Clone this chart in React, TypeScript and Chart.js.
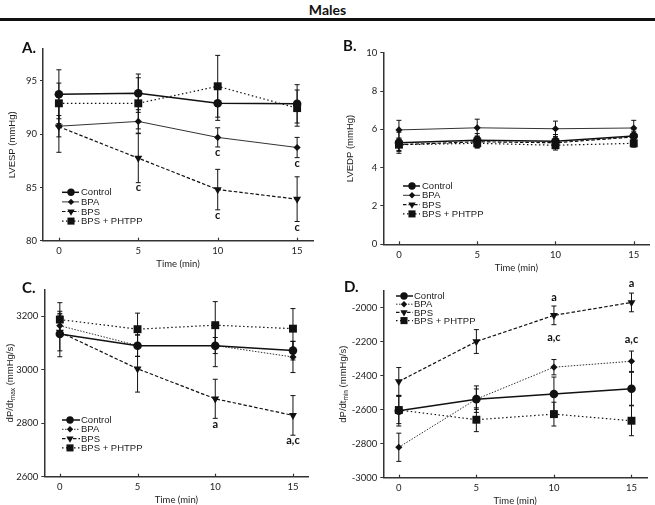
import React, { useEffect, useRef } from "react";
import { Chart, registerables } from "chart.js";

Chart.register(...registerables);

// ---------- data ----------
const timeMin = [0, 5, 10, 15];
const xTickValues = [0, 5, 10, 15];
const groupNames = ["Control", "BPA", "BPS", "BPS + PHTPP"];

// A. LVESP (mmHg)
const lvespTicks = [80, 85, 90, 95];
const lvespControl = [93.75, 93.85, 92.9, 92.85];
const lvespControlErr = [2.3, 1.8, 1.6, 1.8];
const lvespBPA = [90.75, 91.2, 89.7, 88.75];
const lvespBPAErr = [1.0, 1.1, 0.9, 0.95];
const lvespBPS = [90.7, 87.75, 84.8, 83.9];
const lvespBPSErr = [2.4, 2.3, 1.9, 2.1];
const lvespPHTPP = [92.9, 92.9, 94.5, 92.45];
const lvespPHTPPErr = [1.9, 2.4, 2.9, 1.7];
const lvespNotes = [
  { x: 5, y: 85.0, text: "c" },
  { x: 10, y: 88.3, text: "c" },
  { x: 10, y: 82.4, text: "c" },
  { x: 15, y: 87.3, text: "c" },
  { x: 15, y: 81.2, text: "c" },
];

// B. LVEDP (mmHg)
const lvedpTicks = [0, 2, 4, 6, 8, 10];
const lvedpControl = [5.3, 5.43, 5.38, 5.65];
const lvedpControlErr = [0.55, 0.35, 0.35, 0.35];
const lvedpBPA = [5.97, 6.08, 6.03, 6.07];
const lvedpBPAErr = [0.5, 0.45, 0.4, 0.4];
const lvedpBPS = [5.2, 5.35, 5.3, 5.6];
const lvedpBPSErr = [0.3, 0.3, 0.25, 0.3];
const lvedpPHTPP = [5.2, 5.27, 5.17, 5.27];
const lvedpPHTPPErr = [0.35, 0.25, 0.25, 0.2];
const lvedpNotes: { x: number; y: number; text: string }[] = [];

// C. dP/dt max (mmHg/s)
const maxTicks = [2600, 2800, 3000, 3200];
const maxControl = [3133, 3089, 3089, 3071];
const maxControlErr = [85, 40, 78, 35];
const maxBPA = [3164, 3090, 3090, 3047];
const maxBPAErr = [40, 40, 30, 58];
const maxBPS = [3140, 3003, 2891, 2829];
const maxBPSErr = [70, 87, 73, 74];
const maxPHTPP = [3187, 3151, 3166, 3153];
const maxPHTPPErr = [63, 60, 88, 75];
const maxNotes = [
  { x: 10, y: 2796, text: "a" },
  { x: 15, y: 2734, text: "a,c" },
];

// D. dP/dt min (mmHg/s)
const minTicks = [-3000, -2800, -2600, -2400, -2200, -2000];
const minControl = [-2606, -2538, -2508, -2477];
const minControlErr = [90, 78, 100, 97];
const minBPA = [-2821, -2538, -2350, -2315];
const minBPAErr = [83, 60, 45, 60];
const minBPS = [-2434, -2199, -2045, -1969];
const minBPSErr = [82, 70, 55, 55];
const minPHTPP = [-2602, -2659, -2626, -2665];
const minPHTPPErr = [80, 70, 70, 88];
const minNotes = [
  { x: 10, y: -1938, text: "a" },
  { x: 15, y: -1859, text: "a" },
  { x: 10, y: -2176, text: "a,c" },
  { x: 15, y: -2188, text: "a,c" },
];

// ---------- types / styles ----------
type Note = { x: number; y: number; text: string };
type SeriesDef = { values: number[]; errs: number[] };
type PanelDef = {
  canvas: { left: number; top: number; width: number; height: number };
  area: { left: number; top: number; right: number; bottom: number };
  yMin: number;
  yMax: number;
  yTicks: number[];
  series: SeriesDef[];
  bpaDotted: boolean;
  notes: Note[];
  yTitle: string[];
  yTitleX: number;
  legend: { x1: number; x2: number; mx: number; tx: number; y0: number; dy: number };
};

const TICK_FONT = "Lato";
const SANS = "'Liberation Sans', Arial, sans-serif";

function seriesStyle(k: number, bpaDotted: boolean) {
  switch (k) {
    case 0:
      return { dash: [] as number[], width: 1.5, color: "#111", point: "circle", radius: 4.3, rotation: 0 };
    case 1:
      return { dash: bpaDotted ? [1.5, 1.5] : [], width: 1, color: "#333", point: "rectRot", radius: 3.6, rotation: 0 };
    case 2:
      return { dash: [3.5, 2], width: 1.2, color: "#111", point: "triangle", radius: 4.6, rotation: 180 };
    default:
      return { dash: [1.5, 2.5], width: 1.2, color: "#111", point: "rect", radius: 5.6, rotation: 0 };
  }
}

function drawMarker(ctx: CanvasRenderingContext2D, k: number, x: number, y: number, r: number) {
  ctx.beginPath();
  if (k === 0) ctx.arc(x, y, r, 0, Math.PI * 2);
  else if (k === 1) {
    ctx.moveTo(x, y - r);
    ctx.lineTo(x + r, y);
    ctx.lineTo(x, y + r);
    ctx.lineTo(x - r, y);
    ctx.closePath();
  } else if (k === 2) {
    ctx.moveTo(x, y + r);
    ctx.lineTo(x - r * 0.866, y - r / 2);
    ctx.lineTo(x + r * 0.866, y - r / 2);
    ctx.closePath();
  } else {
    const s = r * 0.707;
    ctx.rect(x - s, y - s, 2 * s, 2 * s);
  }
  ctx.fill();
}

// ---------- panels ----------
const panels: PanelDef[] = [
  {
    canvas: { left: 0, top: 28, width: 330, height: 247 },
    area: { left: 43, top: 49, right: 313, bottom: 240.7 },
    yMin: 80,
    yMax: 98,
    yTicks: lvespTicks,
    series: [
      { values: lvespControl, errs: lvespControlErr },
      { values: lvespBPA, errs: lvespBPAErr },
      { values: lvespBPS, errs: lvespBPSErr },
      { values: lvespPHTPP, errs: lvespPHTPPErr },
    ],
    bpaDotted: false,
    notes: lvespNotes,
    yTitle: ["LVESP (mmHg)"],
    yTitleX: 12,
    legend: { x1: 62, x2: 79, mx: 71, tx: 81, y0: 192.3, dy: 9.6 },
  },
  {
    canvas: { left: 330, top: 28, width: 325, height: 247 },
    area: { left: 383.3, top: 52.7, right: 653, bottom: 244.3 },
    yMin: 0,
    yMax: 10,
    yTicks: lvedpTicks,
    series: [
      { values: lvedpControl, errs: lvedpControlErr },
      { values: lvedpBPA, errs: lvedpBPAErr },
      { values: lvedpBPS, errs: lvedpBPSErr },
      { values: lvedpPHTPP, errs: lvedpPHTPPErr },
    ],
    bpaDotted: false,
    notes: lvedpNotes,
    yTitle: ["LVEDP (mmHg)"],
    yTitleX: 350,
    legend: { x1: 403, x2: 420, mx: 412, tx: 422, y0: 186, dy: 9.3 },
  },
  {
    canvas: { left: 0, top: 275, width: 330, height: 230 },
    area: { left: 44.3, top: 289.3, right: 308.5, bottom: 476.7 },
    yMin: 2600,
    yMax: 3300,
    yTicks: maxTicks,
    series: [
      { values: maxControl, errs: maxControlErr },
      { values: maxBPA, errs: maxBPAErr },
      { values: maxBPS, errs: maxBPSErr },
      { values: maxPHTPP, errs: maxPHTPPErr },
    ],
    bpaDotted: true,
    notes: maxNotes,
    yTitle: ["dP/dt", "max", " (mmHg/s)"],
    yTitleX: 10,
    legend: { x1: 62, x2: 80, mx: 70, tx: 81, y0: 420, dy: 9.3 },
  },
  {
    canvas: { left: 330, top: 275, width: 325, height: 230 },
    area: { left: 383.3, top: 290.7, right: 647, bottom: 477.7 },
    yMin: -3000,
    yMax: -1900,
    yTicks: minTicks,
    series: [
      { values: minControl, errs: minControlErr },
      { values: minBPA, errs: minBPAErr },
      { values: minBPS, errs: minBPSErr },
      { values: minPHTPP, errs: minPHTPPErr },
    ],
    bpaDotted: true,
    notes: minNotes,
    yTitle: ["dP/dt", "min", " (mmHg/s)"],
    yTitleX: 343,
    legend: { x1: 396, x2: 413, mx: 404, tx: 414, y0: 296, dy: 8.2 },
  },
];

function Panel({ def }: { def: PanelDef }) {
  const ref = useRef<HTMLCanvasElement | null>(null);
  useEffect(() => {
    const cv = ref.current;
    if (!cv) return;
    const c = def.canvas;
    const a = def.area;
    const yW = a.left - c.left;
    const xH = c.top + c.height - a.bottom;
    const padTop = a.top - c.top;
    const padRight = c.left + c.width - a.right;

    const overlay = {
      id: "overlay",
      beforeDatasetsDraw(chart: any) {
        const ctx: CanvasRenderingContext2D = chart.ctx;
        const xs = chart.scales.x;
        const ys = chart.scales.y;
        ctx.save();
        ctx.strokeStyle = "#111";
        ctx.lineWidth = 1;
        def.series.forEach((s) => {
          timeMin.forEach((t, j) => {
            const x = xs.getPixelForValue(t);
            const y1 = ys.getPixelForValue(s.values[j] + s.errs[j]);
            const y2 = ys.getPixelForValue(s.values[j] - s.errs[j]);
            ctx.beginPath();
            ctx.moveTo(x, y1);
            ctx.lineTo(x, y2);
            ctx.moveTo(x - 2.5, y1);
            ctx.lineTo(x + 2.5, y1);
            ctx.moveTo(x - 2.5, y2);
            ctx.lineTo(x + 2.5, y2);
            ctx.stroke();
          });
        });
        ctx.restore();
      },
      afterDraw(chart: any) {
        const ctx: CanvasRenderingContext2D = chart.ctx;
        const xs = chart.scales.x;
        const ys = chart.scales.y;
        const area = chart.chartArea;
        ctx.save();
        // inward x tick marks
        ctx.strokeStyle = "#333";
        ctx.lineWidth = 1.2;
        xTickValues.forEach((v) => {
          const x = Math.round(xs.getPixelForValue(v)) + 0.5;
          ctx.beginPath();
          ctx.moveTo(x, area.bottom);
          ctx.lineTo(x, area.bottom - 3);
          ctx.stroke();
        });
        // x title
        ctx.fillStyle = "#222";
        ctx.font = `9.5px ${TICK_FONT}`;
        ctx.textAlign = "center";
        ctx.textBaseline = "middle";
        ctx.fillText("Time (min)", (area.left + area.right) / 2, area.bottom + 23.5);
        // y title
        ctx.save();
        ctx.translate(def.yTitleX - c.left, (area.top + area.bottom) / 2);
        ctx.rotate(-Math.PI / 2);
        ctx.fillStyle = "#222";
        ctx.textBaseline = "middle";
        const mainFont = `9.5px ${SANS}`;
        const subFont = `6.5px ${SANS}`;
        if (def.yTitle.length === 1) {
          ctx.font = mainFont;
          ctx.textAlign = "center";
          ctx.fillText(def.yTitle[0], 0, 0);
        } else {
          ctx.font = mainFont;
          const w1 = ctx.measureText(def.yTitle[0]).width;
          const w3 = ctx.measureText(def.yTitle[2]).width;
          ctx.font = subFont;
          const w2 = ctx.measureText(def.yTitle[1]).width;
          const x0 = -(w1 + w2 + w3) / 2;
          ctx.textAlign = "left";
          ctx.font = mainFont;
          ctx.fillText(def.yTitle[0], x0, 0);
          ctx.font = subFont;
          ctx.fillText(def.yTitle[1], x0 + w1, 3);
          ctx.font = mainFont;
          ctx.fillText(def.yTitle[2], x0 + w1 + w2, 0);
        }
        ctx.restore();
        // significance notes
        ctx.fillStyle = "#111";
        ctx.font = `bold 11px ${TICK_FONT}`;
        ctx.textAlign = "center";
        ctx.textBaseline = "middle";
        def.notes.forEach((n) => {
          ctx.fillText(n.text, xs.getPixelForValue(n.x), ys.getPixelForValue(n.y));
        });
        // legend
        const L = def.legend;
        groupNames.forEach((name, k) => {
          const st = seriesStyle(k, def.bpaDotted);
          const y = L.y0 + k * L.dy - c.top;
          ctx.save();
          ctx.strokeStyle = st.color;
          ctx.lineWidth = st.width;
          ctx.setLineDash(st.dash);
          ctx.beginPath();
          ctx.moveTo(L.x1 - c.left, y);
          ctx.lineTo(L.x2 - c.left, y);
          ctx.stroke();
          ctx.restore();
          ctx.fillStyle = "#111";
          const r = k === 0 ? 3.7 : k === 1 ? 3.2 : k === 2 ? 4.2 : 5;
          drawMarker(ctx, k, L.mx - c.left, y, r);
          ctx.fillStyle = "#222";
          ctx.font = `9.5px ${SANS}`;
          ctx.textAlign = "left";
          ctx.textBaseline = "middle";
          ctx.fillText(name, L.tx - c.left, y + 0.5);
        });
        ctx.restore();
      },
    };

    const datasets = def.series.map((s, k) => {
      const st = seriesStyle(k, def.bpaDotted);
      return {
        label: groupNames[k],
        data: timeMin.map((t, j) => ({ x: t, y: s.values[j] })),
        borderColor: st.color,
        borderWidth: st.width,
        borderDash: st.dash,
        backgroundColor: "#111",
        pointStyle: st.point,
        pointRadius: st.radius,
        pointRotation: st.rotation,
        pointBackgroundColor: "#111",
        pointBorderColor: "#111",
        pointBorderWidth: 0,
        tension: 0,
        fill: false,
        clip: false,
      };
    });

    const plain = (v: any) => String(v);

    const chart = new Chart(cv, {
      type: "line",
      data: { datasets: datasets as any },
      options: {
        responsive: false,
        maintainAspectRatio: false,
        animation: false,
        events: [],
        layout: { padding: { top: padTop, right: padRight, left: 0, bottom: 0 } },
        plugins: { legend: { display: false }, tooltip: { enabled: false }, title: { display: false } },
        scales: {
          x: {
            type: "linear",
            min: -1,
            max: 16,
            afterBuildTicks: (s: any) => {
              s.ticks = xTickValues.map((v) => ({ value: v }));
            },
            afterFit: (s: any) => {
              s.height = xH;
            },
            grid: { display: false, drawTicks: false, tickLength: 0 },
            border: { display: true, color: "#333", width: 1.5 },
            ticks: {
              font: { family: TICK_FONT, size: 9.5 },
              color: "#222",
              padding: 5,
              maxRotation: 0,
              autoSkip: false,
              callback: plain,
            },
          },
          y: {
            type: "linear",
            min: def.yMin,
            max: def.yMax,
            afterBuildTicks: (s: any) => {
              s.ticks = def.yTicks.map((v) => ({ value: v }));
            },
            afterFit: (s: any) => {
              s.width = yW;
            },
            grid: { drawOnChartArea: false, drawTicks: true, tickLength: 3, color: "#333" },
            border: { display: true, color: "#333", width: 1.5 },
            ticks: {
              font: { family: TICK_FONT, size: 9.5 },
              color: "#222",
              padding: 3,
              autoSkip: false,
              callback: plain,
            },
          },
        },
      },
      plugins: [overlay],
    } as any);

    let alive = true;
    const fonts = (document as any).fonts;
    if (fonts && fonts.load) {
      Promise.all([fonts.load(`9.5px ${TICK_FONT}`), fonts.load(`bold 11px ${TICK_FONT}`)]).then(() => {
        if (alive) chart.update();
      });
    }
    return () => {
      alive = false;
      chart.destroy();
    };
  }, [def]);

  return (
    <canvas
      ref={ref}
      width={def.canvas.width}
      height={def.canvas.height}
      style={{
        position: "absolute",
        left: def.canvas.left,
        top: def.canvas.top,
        width: def.canvas.width,
        height: def.canvas.height,
      }}
    />
  );
}

const panelLetters = [
  { text: "A.", x: 22, y: 47 },
  { text: "B.", x: 343, y: 44.5 },
  { text: "C.", x: 22, y: 287 },
  { text: "D.", x: 344, y: 286 },
];

export default function App() {
  return (
    <div
      style={{
        position: "fixed",
        left: 0,
        top: 0,
        width: 655,
        height: 505,
        background: "#fff",
        overflow: "hidden",
      }}
    >
      <div
        style={{
          position: "absolute",
          left: 0,
          top: 1,
          width: 655,
          textAlign: "center",
          font: "bold 14px Lato, sans-serif",
          lineHeight: "18px",
          color: "#111",
        }}
      >
        Males
      </div>
      <div style={{ position: "absolute", left: 0, top: 17.5, width: 655, height: 3, background: "#111" }} />
      {panels.map((p, i) => (
        <Panel key={i} def={p} />
      ))}
      {panelLetters.map((l, i) => (
        <div
          key={"l" + i}
          style={{
            position: "absolute",
            left: l.x,
            top: l.y - 9,
            font: "bold 15px Lato, sans-serif",
            lineHeight: "18px",
            color: "#111",
          }}
        >
          {l.text}
        </div>
      ))}
    </div>
  );
}
